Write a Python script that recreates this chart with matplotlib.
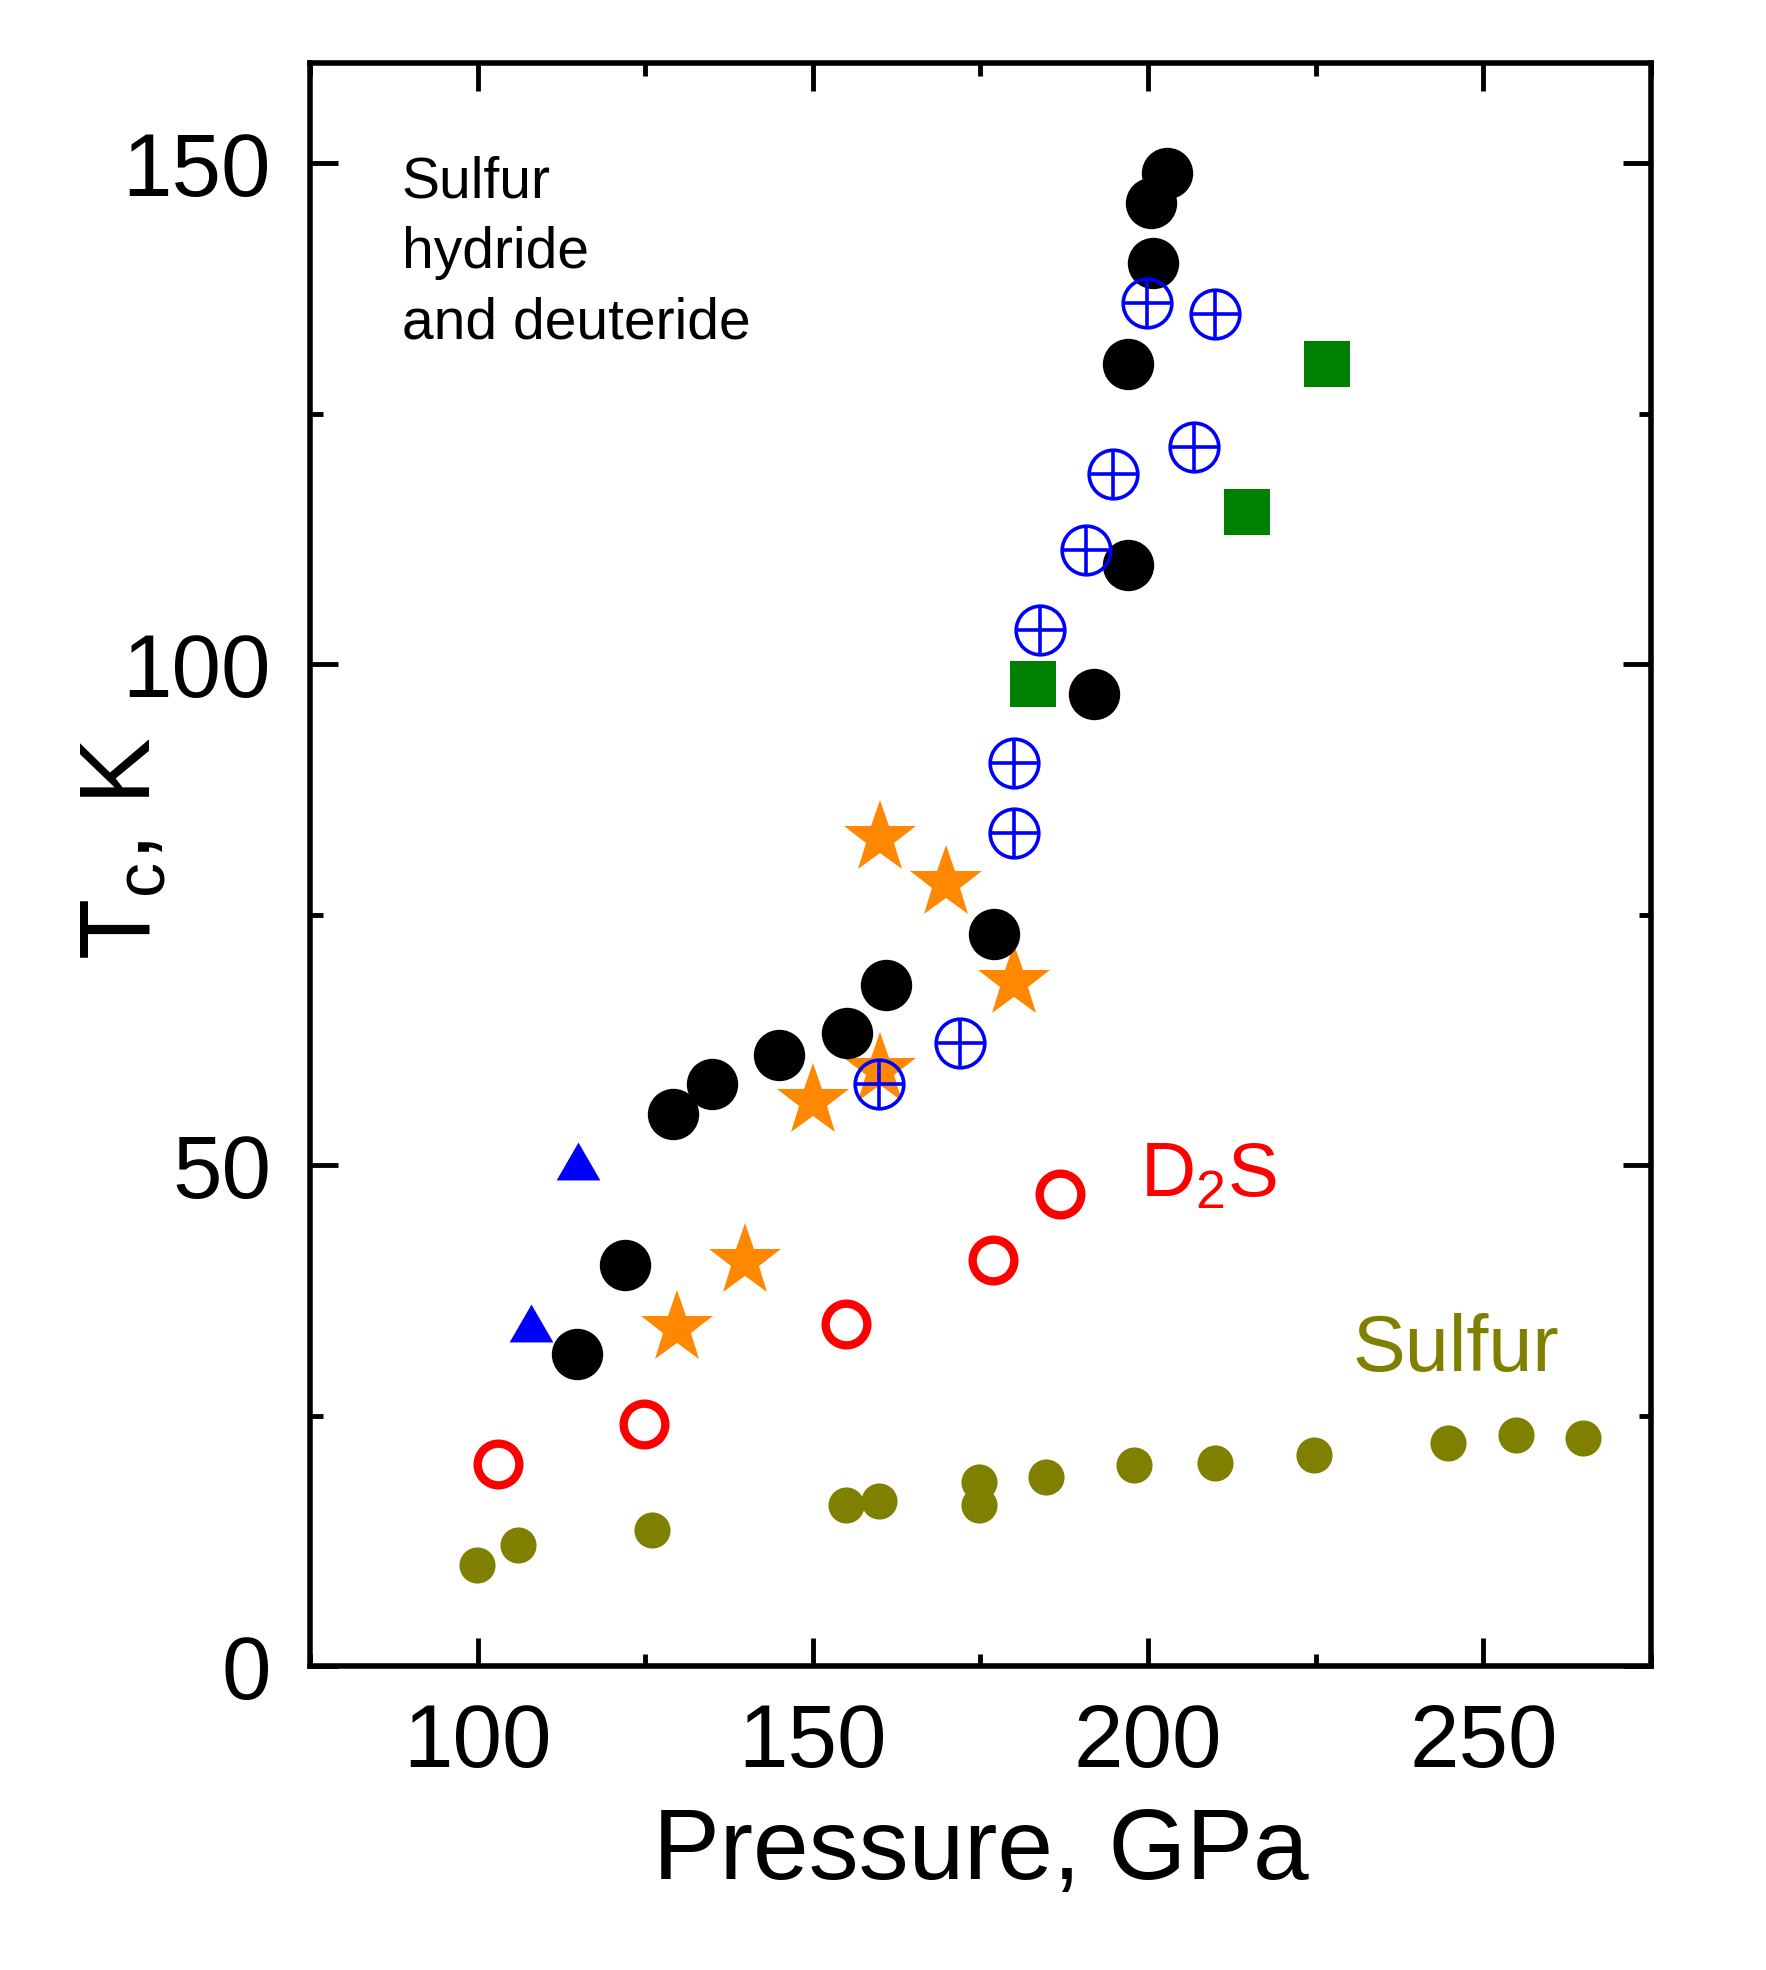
import matplotlib
matplotlib.use("Agg")
import matplotlib.pyplot as plt
from matplotlib.ticker import MultipleLocator

plt.rcParams['font.family'] = ['Liberation Sans', 'DejaVu Sans']
plt.rcParams['mathtext.fontset'] = 'custom'
plt.rcParams['mathtext.rm'] = 'Liberation Sans'
plt.rcParams['mathtext.it'] = 'Liberation Sans'

# H2S / D2S, black circles
p_black = [202.8, 200.4, 200.7, 197.0, 197.0, 191.9, 177.0, 160.9, 155.1, 145.0, 134.9, 129.1, 122.0, 114.9]
tc_black = [149.0, 146.0, 140.0, 130.0, 109.9, 97.0, 73.1, 68.0, 63.2, 61.0, 58.1, 55.1, 40.0, 31.1]

# blue crossed circles
p_cross = [199.8, 209.9, 206.9, 194.7, 190.8, 183.9, 180.0, 180.0, 171.9, 159.8]
tc_cross = [136.0, 135.0, 121.7, 119.0, 111.4, 103.4, 90.1, 83.1, 62.2, 58.1]

# orange stars
p_star = [160.0, 169.9, 180.0, 160.0, 150.0, 139.9, 129.8]
tc_star = [82.6, 78.2, 68.3, 59.5, 56.4, 40.4, 33.7]

# green squares
p_sq = [226.7, 214.7, 182.8]
tc_sq = [130.0, 115.2, 98.0]

# blue triangles
p_tri = [115.0, 107.9]
tc_tri = [50.4, 34.2]

# D2S, red open circles
p_d2s = [186.9, 176.8, 154.9, 124.8, 103.1]
tc_d2s = [47.1, 40.5, 34.1, 24.2, 20.2]

# sulfur
p_s = [99.9, 106.0, 126.0, 154.9, 159.8, 174.8, 174.8, 184.8, 197.9, 209.9, 224.8, 244.7, 254.8, 264.8]
tc_s = [10.1, 12.1, 13.6, 16.1, 16.5, 16.1, 18.4, 18.9, 20.1, 20.3, 21.1, 22.3, 23.1, 22.8]

fig = plt.figure(figsize=(17.66, 19.70), dpi=100)
ax = fig.add_axes([0.1755, 0.1543, 0.7594, 0.8137])

tri = [(-1, -0.866), (1, -0.866), (0, 0.866)]

ax.plot(p_s, tc_s, 'o', color='#808000', ms=26, mew=0, zorder=2)
ax.plot(p_d2s, tc_d2s, 'o', mfc='none', mec='#ff0000', ms=30, mew=6, zorder=2)
ax.plot(p_tri, tc_tri, marker=tri, ls='none', color='#0000ff', ms=31.5, mew=0, zorder=2)
ax.plot(p_star, tc_star, '*', color='#ff8800', ms=55, mew=0, zorder=3)
ax.plot(p_sq, tc_sq, 's', color='#008000', ms=33, mew=0, zorder=3)
ax.plot(p_black, tc_black, 'o', color='black', ms=37, mew=0, zorder=4)
ax.plot(p_cross, tc_cross, 'o', mfc='none', mec='#0000ff', ms=35, mew=2.6, zorder=5)
ax.plot(p_cross, tc_cross, '+', color='#0000ff', ms=35, mew=2.6, zorder=5)

ax.set_xlim(75, 275)
ax.set_ylim(0, 160)
ax.xaxis.set_major_locator(MultipleLocator(50))
ax.xaxis.set_minor_locator(MultipleLocator(25))
ax.yaxis.set_major_locator(MultipleLocator(50))
ax.yaxis.set_minor_locator(MultipleLocator(25))
ax.tick_params(which='both', direction='in', top=True, right=True, width=3.5)
ax.tick_params(which='major', length=20, labelsize=64, pad=26)
ax.tick_params(axis='y', which='major', pad=28)
ax.tick_params(which='minor', length=9)
for s in ax.spines.values():
    s.set_linewidth(4)

ax.set_xlabel('Pressure, GPa', fontsize=72, labelpad=14)
ax.set_ylabel('T$_c$, K', fontsize=72)
ax.yaxis.set_label_coords(-0.103, 0.51)

ax.text(88.7, 146.6, 'Sulfur', fontsize=41)
ax.text(88.7, 139.5, 'hydride', fontsize=41)
ax.text(88.7, 132.5, 'and deuteride', fontsize=41)
ax.text(198.8, 46.9, r'D$_2$S', fontsize=55, color='#ff0000')
ax.text(230.4, 29.4, 'Sulfur', fontsize=57, color='#808000')

fig.savefig('out.png', dpi=100)
